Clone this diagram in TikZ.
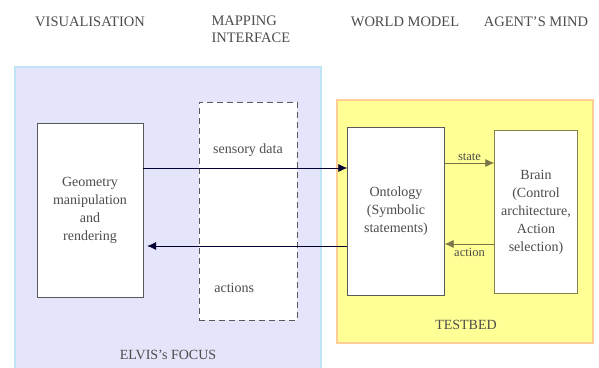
\documentclass[tikz,border=0pt]{standalone}
\usepackage{fontspec}
\setmainfont{Liberation Serif}
\usetikzlibrary{
  arrows.meta,
  positioning,
}
\tikzstyle{box} = [
  rectangle,
  draw=black!65,
  fill=white,
  align=center,
  text=black!70,
]
\tikzstyle{flow} = [
  -{Latex[length=9pt,width=8pt]},
  line width=0.7pt,
  draw=black!80!blue,
]
\tikzstyle{heading} = [
  font=\fontsize{14.5}{17}\selectfont,
  text=black!70,
  align=left,
]
\definecolor{focusfill}{RGB}{228,228,250}
\definecolor{focusedge}{RGB}{190,228,246}
\definecolor{testfill}{RGB}{255,255,150}
\definecolor{testedge}{RGB}{255,206,150}

\begin{document}
\begin{tikzpicture}[x=1pt,y=-1pt,font=\fontsize{14}{18}\selectfont]
\useasboundingbox (0,0) rectangle (599,367);
\fill[white] (0,0) rectangle (599,367);

% regions behind the boxes
\draw[draw=focusedge,fill=focusfill,line width=2pt] (15,67) rectangle (321,372);
\draw[draw=testedge,fill=testfill,line width=1.5pt] (337,100) rectangle (593,343);

% headings
\node[heading] (hvis) at (90,22) {VISUALISATION};
\node[heading,anchor=west] (hmap) at (208,29) {MAPPING\\INTERFACE};
\node[heading] (hworld) at (405,22) {WORLD MODEL};
\node[heading] (hmind) at (536,22) {AGENT'S MIND};

% boxes
\node[box,minimum width=106,minimum height=174] (geom) at (90,210) {Geometry\\manipulation\\and\\rendering};
\node[box,dashed,dash pattern=on 6pt off 4pt,minimum width=98,minimum height=218] (mapif) at (248,211) {};
\node[box,minimum width=97,minimum height=168] (onto) at (396,211) {Ontology\\(Symbolic\\statements)};
\node[box,draw=black!55!yellow,minimum width=83,minimum height=163] (brain) at (536,212) {Brain\\(Control\\architecture,\\Action\\selection)};

\node[text=black!70,below=38pt of mapif.north] (sensory) {sensory data};
\node[text=black!70,above=24pt of mapif.south west,xshift=12pt,anchor=south west] (actions) {actions};

\node[text=black!70] (focus) at (168,355) {ELVIS's FOCUS};
\node[text=black!70] (testbed) at (466,325) {TESTBED};

% connectors
\draw[flow] ([yshift=42pt]geom.east) -- ([yshift=42pt]geom.east -| onto.west);
\draw[flow,shorten >=4pt] ([yshift=-36pt]geom.east -| onto.west) -- ([yshift=-36pt]geom.east);
\draw[flow,draw=black!60!yellow] ([yshift=48pt]onto.east) -- node[above=-1pt,font=\fontsize{12.5}{14}\selectfont,text=black!70] (lstate) {state} ([yshift=48pt]onto.east -| brain.west);
\draw[flow,draw=black!60!yellow] ([yshift=-33pt]onto.east -| brain.west) -- node[below=1pt,font=\fontsize{12.5}{14}\selectfont,text=black!70] (laction) {action} ([yshift=-33pt]onto.east);
\end{tikzpicture}
\end{document}
